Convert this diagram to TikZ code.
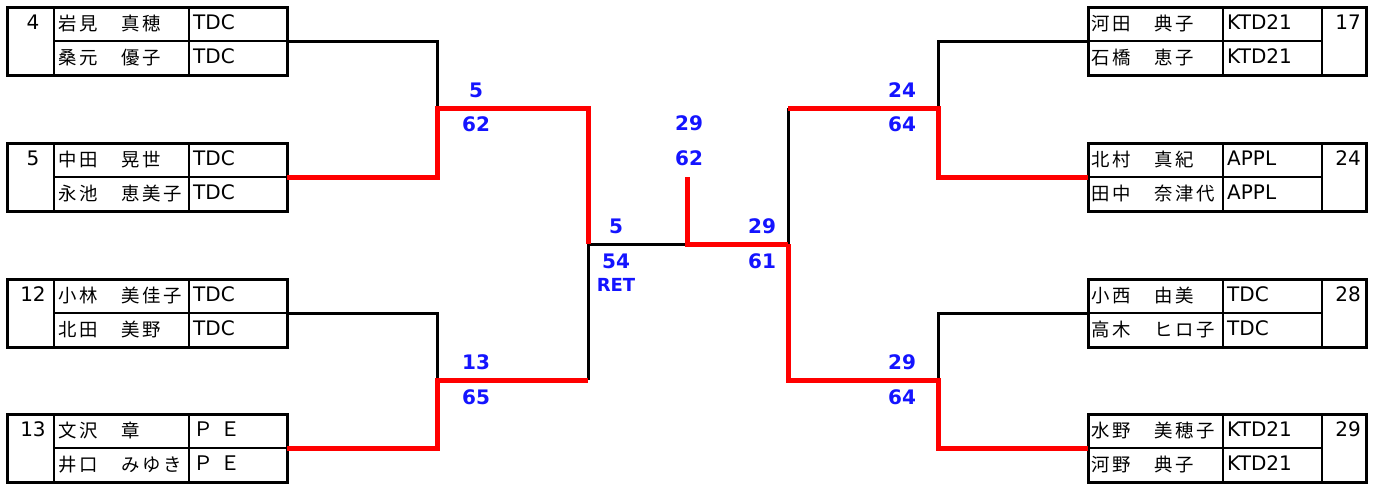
\documentclass[tikz,border=0pt]{standalone}
\usepackage{fontspec}
\setmainfont{DejaVu Sans}
\newfontfamily\jpfont[LetterSpace=14]{Noto Sans CJK JP}
\usepackage{xcolor}
\definecolor{scoreblue}{RGB}{20,20,255}

\begin{document}
\begin{tikzpicture}[x=1pt,y=-1pt,
  entry box/.style={draw,line width=3pt,inner sep=0pt,outer sep=0pt,minimum width=280pt,minimum height=68pt,anchor=north west},
  grid line/.style={line width=2.8pt},
  player/.style={anchor=base west,inner sep=0pt,font=\jpfont\fontsize{18.4}{18}\selectfont},
  club/.style={anchor=base west,inner sep=0pt,font=\fontsize{20}{20}\selectfont},
  seed/.style={anchor=base,inner sep=0pt,font=\fontsize{20}{20}\selectfont},
  score/.style={text=scoreblue,inner sep=0pt,font=\bfseries\fontsize{20}{20}\selectfont},
  lost/.style={line width=3pt},
  won/.style={red,line width=5pt}]

\useasboundingbox (0,0) rectangle (1379,483);

\foreach \yy/\seed/\pa/\ca/\pb/\cb/\name in {7/4/岩見　真穂/TDC/桑元　優子/TDC/L1, 143/5/中田　晃世/TDC/永池　恵美子/TDC/L2, 279/12/小林　美佳子/TDC/北田　美野/TDC/L3, 414/13/文沢　章/\jpfont Ｐ Ｅ/井口　みゆき/\jpfont Ｐ Ｅ/L4}
{
  \node[entry box] (\name) at (7,\yy) {};
  \draw[grid line] (54,\yy) -- (54,\yy+68) (189,\yy) -- (189,\yy+68) (54,\yy+34) -- (287,\yy+34);
  \node[seed] (\name-s) at (33,\yy+22) {\seed};
  \node[player] (\name-a) at (58,\yy+23) {\pa};
  \node[player] (\name-b) at (58,\yy+57) {\pb};
  \node[club] (\name-ca) at (193,\yy+22) {\ca};
  \node[club] (\name-cb) at (193,\yy+56) {\cb};
}

\foreach \yy/\seed/\pa/\ca/\pb/\cb/\name in {7/17/河田　典子/KTD21/石橋　恵子/KTD21/R1, 143/24/北村　真紀/APPL/田中　奈津代/APPL/R2, 279/28/小西　由美/TDC/高木　ヒロ子/TDC/R3, 414/29/水野　美穂子/KTD21/河野　典子/KTD21/R4}
{
  \node[entry box,minimum width=278pt] (\name) at (1088,\yy) {};
  \draw[grid line] (1223,\yy) -- (1223,\yy+68) (1322,\yy) -- (1322,\yy+68) (1088,\yy+34) -- (1322,\yy+34);
  \node[seed] (\name-s) at (1348,\yy+22) {\seed};
  \node[player] (\name-a) at (1091,\yy+23) {\pa};
  \node[player] (\name-b) at (1091,\yy+57) {\pb};
  \node[club] (\name-ca) at (1227,\yy+22) {\ca};
  \node[club] (\name-cb) at (1227,\yy+56) {\cb};
}

\coordinate (q1) at (437,108);
\coordinate (q2) at (437,380);
\coordinate (s1) at (588,244);
\coordinate (f) at (687,244);
\coordinate (ftop) at (687,177);
\coordinate (s2) at (788,244);
\coordinate (q3) at (938,108);
\coordinate (q4) at (938,380);

\draw[lost] (L1.east) -| (q1);
\draw[lost] (L3.east) -| (q2);
\draw[lost] (s1) -- (q2 -| s1);
\draw[lost] (s1) -- (f);
\draw[lost] (R1.west) -| (q3);
\draw[lost] (R3.west) -| (q4);
\draw[lost] (q3 -| s2) -- (s2);

\draw[won] (L2.east) -| (q1) -| (s1);
\draw[won] (L4.east) -| (q2) -- (q2 -| s1);
\draw[won] (ftop) -- (f) -- (s2);
\draw[won] (s2) |- (q4) |- (R4.west);
\draw[won] (R2.west) -| (q3) -- (q3 -| s2);

\foreach \place/\txt/\name in {(476,90)/5/w1, (476,124)/62/w1s, (476,362)/13/w2, (476,397)/65/w2s, (616,226)/5/w3, (616,261)/54/w3s, (689,123)/29/w4, (689,158)/62/w4s, (762,226)/29/w5, (762,261)/61/w5s, (902,90)/24/w6, (902,124)/64/w6s, (902,362)/29/w7, (902,397)/64/w7s}
  \node[score] (\name) at \place {\txt};
\node[score,font=\bfseries\fontsize{18}{18}\selectfont] (ret) at (616,285) {RET};
\end{tikzpicture}
\end{document}
